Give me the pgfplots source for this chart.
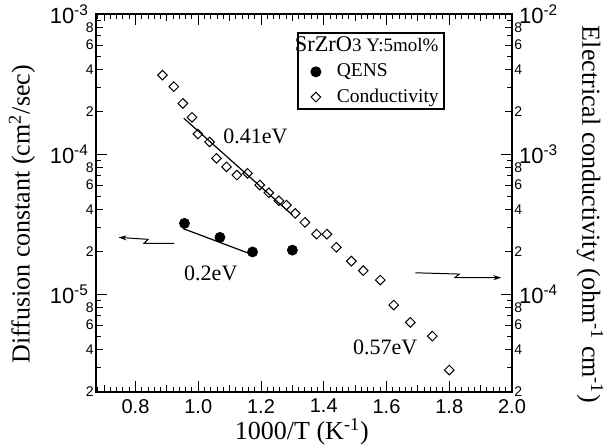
\documentclass[border=0pt]{standalone}
\usepackage{fontspec}
\setmainfont{Liberation Serif}
\setsansfont{Liberation Sans}
\usepackage{pgfplots}
\pgfplotsset{compat=1.18}
\usetikzlibrary{arrows.meta}

\begin{document}
\begin{tikzpicture}
\path[use as bounding box] (-48pt,-28pt) rectangle (255.5pt,196pt);

% left axis: diffusion constant (QENS)
\begin{axis}[
  scale only axis, width=208pt, height=189pt,
  xmin=0.674, xmax=2.0,
  ymode=log, ymin=2e-6, ymax=1e-3,
  axis line style={line width=0.8pt},
  tick style={black, line width=0.5pt},
  tick align=inside,
  major tick length=5.5pt, minor tick length=2.5pt,
  xtick={0.8,1.0,1.2,1.4,1.6,1.8,2.0},
  xticklabels={0.8,1.0,1.2,1.4,1.6,1.8,2.0},
  minor xtick={0.68,0.70,...,2.0},
  extra x ticks={0.7,0.9,1.1,1.3,1.5,1.7,1.9},
  extra x tick style={major tick length=3.5pt, xticklabel={}},
  ytick pos=left,
  ytick={1e-5,1e-4,1e-3},
  yticklabels={10\textsuperscript{-5},10\textsuperscript{-4},10\textsuperscript{-3}},
  minor ytick={3e-6,5e-6,7e-6,9e-6,3e-5,5e-5,7e-5,9e-5,3e-4,5e-4,7e-4,9e-4},
  extra y ticks={2e-6,4e-6,6e-6,8e-6,2e-5,4e-5,6e-5,8e-5,2e-4,4e-4,6e-4,8e-4},
  extra y tick labels={2,4,6,8,2,4,6,8,2,4,6,8},
  extra y tick style={major tick length=3.5pt,
    yticklabel style={font=\sffamily\fontsize{7}{8}\selectfont, inner sep=1pt}},
  xticklabel style={font=\sffamily\fontsize{10}{12}\selectfont},
  yticklabel style={font=\sffamily\fontsize{11}{13}\selectfont},
  xlabel={1000/T (K\textsuperscript{-1})},
  ylabel={Diffusion constant (cm\textsuperscript{2}/sec)},
  label style={font=\fontsize{13}{15}\selectfont},
  xlabel style={at={(axis description cs:0.495,-0.106)}, anchor=center},
  ylabel style={at={(axis description cs:-0.178,0.47)}, anchor=center},
]
  % QENS
  \addplot[only marks, mark=*, mark size=2.5pt, black] coordinates {
    (0.956,3.20e-5) (1.069,2.54e-5) (1.173,2.00e-5) (1.300,2.06e-5)
  };
  % 0.2 eV fit
  \addplot[black, line width=0.6pt, forget plot] coordinates {
    (0.951,2.94e-5) (1.160,1.96e-5)
  };
  \node[font=\fontsize{11}{13}\selectfont] at (axis cs:1.182,1.33e-4) {0.41eV};
  \node[font=\fontsize{11}{13}\selectfont] at (axis cs:1.040,1.41e-5) {0.2eV};
  \node[font=\fontsize{11}{13}\selectfont] at (axis cs:1.596,4.2e-6) {0.57eV};
  % axis pointers
  \draw[line width=0.5pt, -{Stealth[length=4pt, width=2.5pt]}]
    (axis cs:0.924,2.30e-5) -- (axis cs:0.827,2.30e-5)
    -- (axis cs:0.840,2.46e-5) -- (axis cs:0.746,2.54e-5);
  \draw[line width=0.5pt, -{Stealth[length=4pt, width=2.5pt]}]
    (axis cs:1.692,1.42e-5) -- (axis cs:1.832,1.39e-5)
    -- (axis cs:1.818,1.31e-5) -- (axis cs:1.966,1.31e-5);
\end{axis}

% right axis: electrical conductivity
\begin{axis}[
  scale only axis, width=208pt, height=189pt,
  xmin=0.674, xmax=2.0,
  ymode=log, ymin=2e-5, ymax=1e-2,
  axis x line=none,
  axis y line*=right,
  axis line style={-, line width=0.8pt},
  tick style={black, line width=0.5pt},
  tick align=inside,
  major tick length=5.5pt, minor tick length=2.5pt,
  ytick={1e-4,1e-3,1e-2},
  yticklabels={10\textsuperscript{-4},10\textsuperscript{-3},10\textsuperscript{-2}},
  minor ytick={3e-5,5e-5,7e-5,9e-5,3e-4,5e-4,7e-4,9e-4,3e-3,5e-3,7e-3,9e-3},
  extra y ticks={2e-5,4e-5,6e-5,8e-5,2e-4,4e-4,6e-4,8e-4,2e-3,4e-3,6e-3,8e-3},
  extra y tick labels={2,4,6,8,2,4,6,8,2,4,6,8},
  extra y tick style={major tick length=3.5pt,
    yticklabel style={font=\sffamily\fontsize{7}{8}\selectfont, inner sep=1pt}},
  yticklabel style={font=\sffamily\fontsize{11}{13}\selectfont},
  ylabel={Electrical conductivity (ohm\textsuperscript{-1} cm\textsuperscript{-1})},
  label style={font=\fontsize{13}{15}\selectfont},
  ylabel style={at={(axis description cs:1.1875,0.47)}, anchor=center, rotate=180},
  legend style={at={(axis description cs:0.483,0.952)}, anchor=north west,
    draw=black, line width=0.9pt, inner xsep=0.5pt, inner ysep=0pt,
    font=\fontsize{9.75}{11}\selectfont, row sep=0.5pt,
    /tikz/every odd column/.append style={column sep=6pt}},
  legend cell align=left,
]
  \addlegendimage{empty legend}
  \addlegendentry{\hspace{-21pt}{\fontsize{11.2}{12}\selectfont SrZrO}{\fontsize{9.5}{11}\selectfont 3 Y:5mol\%}}
  \addlegendimage{only marks, mark=*, mark size=2.5pt, black, line width=0.5pt}
  \addlegendentry{QENS}
  \addplot[only marks, mark=square, mark size=1.7pt, black, line width=0.5pt,
    mark options={rotate=45}] coordinates {
    (0.886,3.66e-3) (0.922,3.03e-3) (0.951,2.30e-3) (0.980,1.83e-3)
    (0.999,1.39e-3) (1.036,1.22e-3) (1.058,9.32e-4) (1.090,8.11e-4)
    (1.123,7.08e-4) (1.157,7.28e-4) (1.196,6.01e-4) (1.225,5.29e-4)
    (1.257,4.64e-4) (1.281,4.32e-4) (1.309,3.77e-4) (1.340,3.25e-4)
    (1.377,2.68e-4) (1.410,2.68e-4) (1.440,2.16e-4) (1.488,1.72e-4)
    (1.526,1.47e-4) (1.580,1.26e-4) (1.623,8.35e-5) (1.676,6.28e-5)
    (1.746,5.01e-5) (1.800,2.87e-5)
  };
  \addlegendentry{Conductivity}
  % 0.41 eV fit
  \addplot[black, line width=0.6pt, forget plot] coordinates {
    (0.954,1.80e-3) (1.300,3.67e-4)
  };
\end{axis}
\end{tikzpicture}
\end{document}
